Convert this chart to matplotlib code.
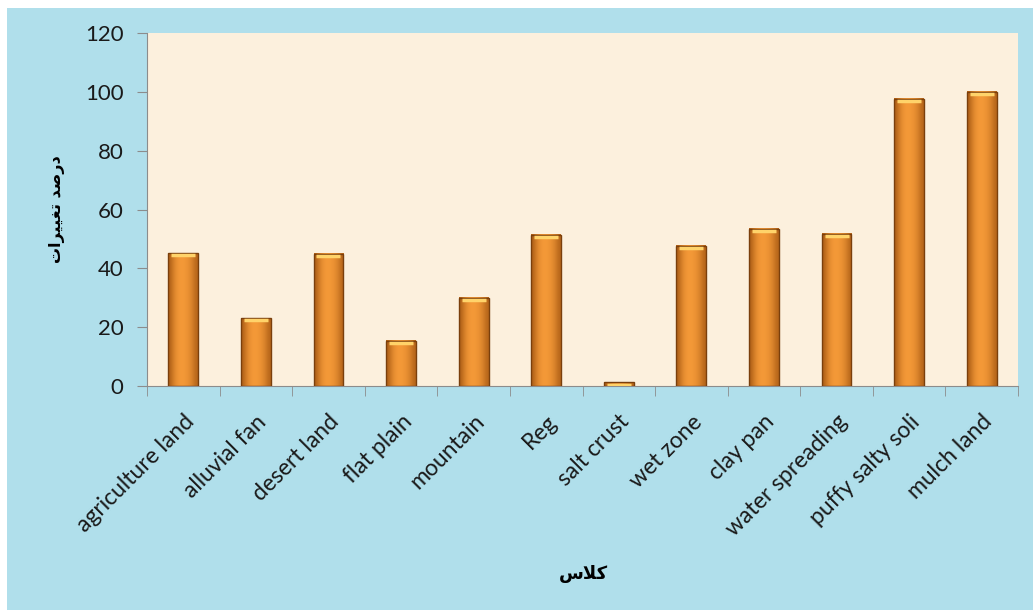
import numpy as np
import matplotlib.pyplot as plt
from matplotlib.patches import Rectangle
from matplotlib.colors import LinearSegmentedColormap

# data
categories = ['agriculture land', 'alluvial fan', 'desert land', 'flat plain',
              'mountain', 'Reg', 'salt crust', 'wet zone', 'clay pan',
              'water spreading', 'puffy salty soli', 'mulch land']
values = [45.2, 23.1, 44.9, 15.3, 30.0, 51.4, 1.2, 47.6, 53.4, 51.7, 97.6, 100.0]
yticks = [0, 20, 40, 60, 80, 100, 120]

# Persian labels, pre-shaped (presentation forms) and in visual order
ylabel_fa = '\uFE95\uFE8D\uFEAE\uFEF4\uFEF4\uFED0\uFE97 \uFEAA\uFEBB\uFEAD\uFEA9'  # درصد تغییرات
xlabel_fa = '\uFEB1\uFEFC\uFEDB'  # کلاس

fig = plt.figure(figsize=(10.33, 6.10), dpi=100)
fig.patch.set_facecolor('white')

# light blue backdrop (leaves a thin white strip on top and left)
fig.patches.append(Rectangle((7 / 1033, 0), 1, 1 - 8 / 610, transform=fig.transFigure,
                             facecolor='#b0dfeb', edgecolor='none', zorder=-10))

ax = fig.add_axes([147 / 1033, 1 - 386 / 610, (1018 - 147) / 1033, (386 - 33) / 610])
ax.set_facecolor('#fcf0dd')

x = np.arange(len(categories))
w = 0.41

# orange bars with a horizontal shading
grad = np.array([[0.55, 0.8, 0.95, 1.0, 0.98, 0.92, 0.8, 0.6]])
cmap = LinearSegmentedColormap.from_list('bar', ['#a85a14', '#f59a38'])
for xi, v in zip(x, values):
    ax.imshow(grad, extent=(xi - w / 2, xi + w / 2, 0, v), aspect='auto',
              cmap=cmap, vmin=0.5, vmax=1.0, zorder=2, interpolation='bicubic')
ax.bar(x, values, width=w, facecolor='none', edgecolor='#7a3f0c', linewidth=1.0, zorder=3)
# light bevel on the top of each bar
for xi, v in zip(x, values):
    ax.plot([xi - w / 2 + 0.04, xi + w / 2 - 0.04], [v - 0.8, v - 0.8],
            color='#ffd36a', linewidth=2.5, zorder=4, solid_capstyle='butt')

ax.set_xlim(-0.5, len(categories) - 0.5)
ax.set_ylim(0, 120)
ax.set_yticks(yticks)
ax.set_xticks(x)
ax.set_xticks(np.arange(-0.5, len(categories), 1.0), minor=True)
ax.tick_params(axis='x', which='major', length=0, pad=18)
ax.tick_params(axis='x', which='minor', length=7, color='#8c8c8c')
ax.tick_params(axis='y', length=7, color='#8c8c8c', pad=10)

for s in ['top', 'right']:
    ax.spines[s].set_visible(False)
for s in ['left', 'bottom']:
    ax.spines[s].set_color('#8c8c8c')

ax.set_yticklabels([str(t) for t in yticks], fontsize=16, fontfamily='Lato', color='#1a1a1a')
ax.set_xticklabels(categories, rotation=45, ha='right', rotation_mode='anchor',
                   fontsize=16.5, fontfamily='Lato', color='#1a1a1a')

ax.set_ylabel(ylabel_fa, fontsize=11.5, fontweight='bold', fontfamily='DejaVu Sans', labelpad=14)
fig.text(583 / 1033, 1 - 574 / 610, xlabel_fa, fontsize=13, fontweight='bold',
         fontfamily='DejaVu Sans', ha='center', va='center')

fig.savefig('out.png', dpi=100, facecolor=fig.get_facecolor())
